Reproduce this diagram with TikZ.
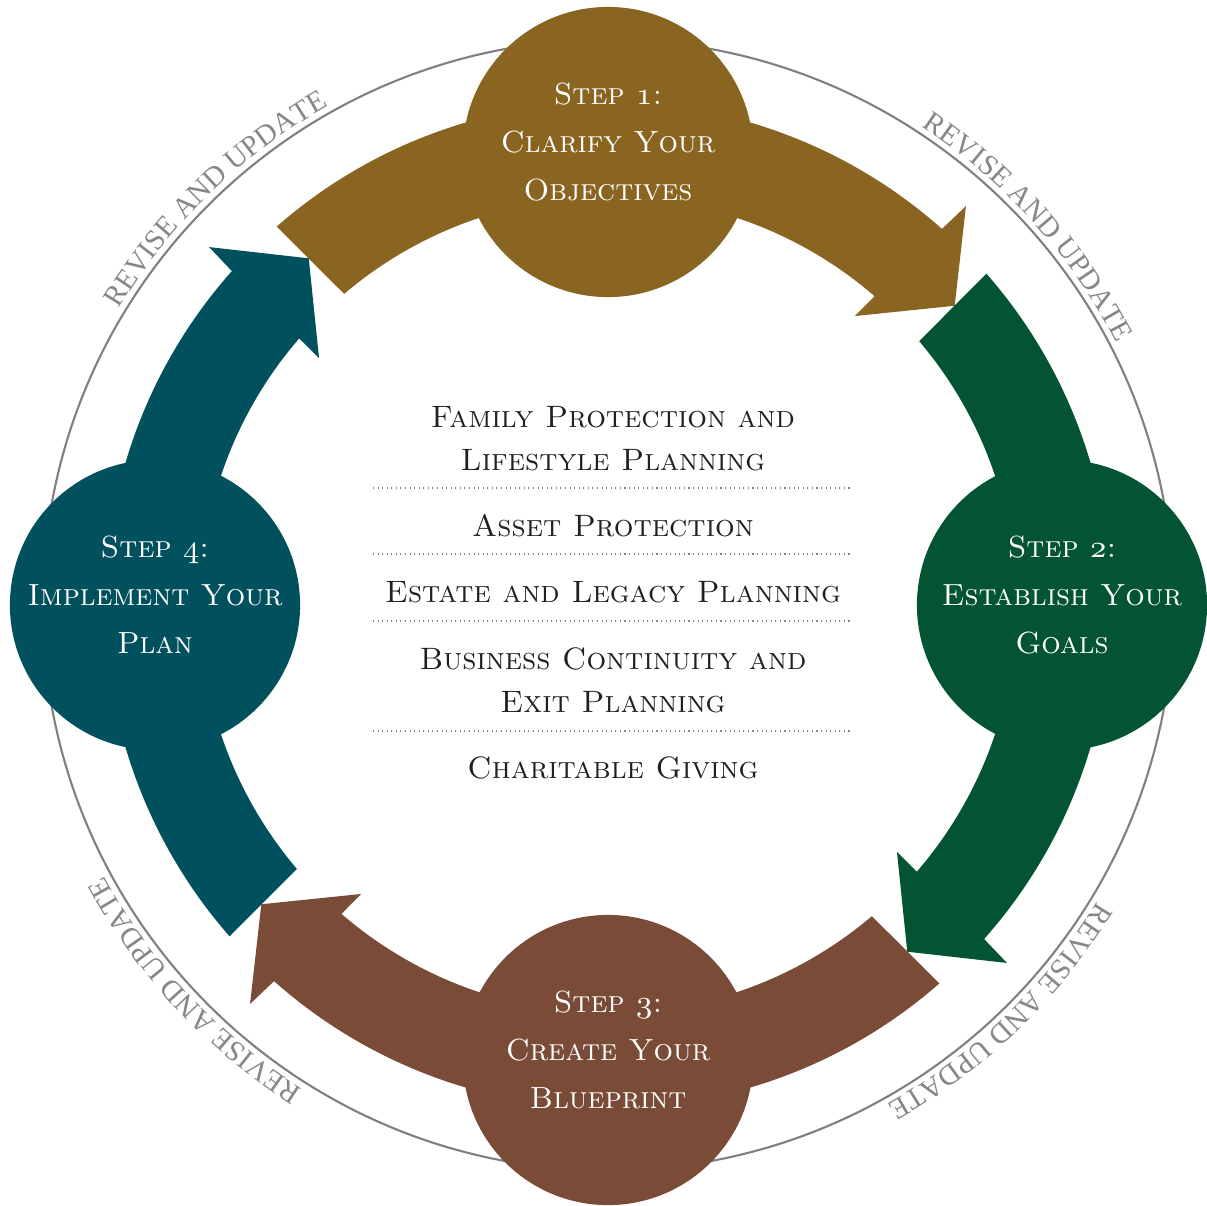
\documentclass[tikz,border=0pt]{standalone}
\usepackage{fontspec}
\newfontfamily\revfont{Liberation Serif}
\usetikzlibrary{decorations.text}

\definecolor{gold}{RGB}{137,101,33}
\definecolor{pine}{RGB}{2,84,50}
\definecolor{umber}{RGB}{122,75,54}
\definecolor{petrol}{RGB}{1,80,93}
\definecolor{ringgray}{RGB}{128,128,128}
\definecolor{revgray}{RGB}{135,135,138}
\definecolor{ink}{RGB}{35,31,32}

\newcommand\osnum[1]{{\fontencoding{OML}\fontfamily{cmm}\fontseries{m}\fontshape{it}\selectfont #1}}

\tikzset{
  stepdot/.style={circle,minimum size=2.9cm,inner sep=0pt},
  steptext/.style={align=center,text=white,font=\fontsize{8.7}{13.7}\selectfont\scshape},
  topic/.style={align=center,text=ink,anchor=base,font=\fontsize{8.8}{12.2}\selectfont\scshape},
  sepline/.style={densely dotted,line width=0.3pt,ringgray},
  revise/.style={decorate,decoration={text along path,text align=center,text color=revgray,
    text={|\revfont\fontsize{8.3}{9}\selectfont|REVISE AND UPDATE}}}
}

\begin{document}
\begin{tikzpicture}[x=0.01cm,y=0.01cm]
  \useasboundingbox (-608,-600) rectangle (599,605);
  \node[circle,draw=ringgray,line width=0.6pt,minimum size=11.3cm] (ring) at (0,0) {};

  \foreach \col/\rot in {gold/0,pine/-90,umber/-180,petrol/-270}
    \fill[\col,rotate=\rot] (131.2:503) arc[start angle=131.2,end angle=48.4,radius=503]
      -- (48.1:536) -- (40.8:458) -- (49.5:380) -- (49.2:408)
      arc[start angle=49.2,end angle=130.3,radius=408] -- cycle;

  \node[stepdot,fill=gold] (s1) at (90:453) {};
  \node[stepdot,fill=pine] (s2) at (0:454) {};
  \node[stepdot,fill=umber] (s3) at (-90:455) {};
  \node[stepdot,fill=petrol] (s4) at (180:453) {};

  \node[steptext] (t1) at ([yshift=1mm]s1.center) {Step \osnum{1}:\\Clarify Your\\Objectives};
  \node[steptext] (t2) at ([yshift=1mm]s2.center) {Step \osnum{2}:\\Establish Your\\Goals};
  \node[steptext] (t3) at ([yshift=1mm]s3.center) {Step \osnum{3}:\\Create Your\\Blueprint};
  \node[steptext] (t4) at ([yshift=1mm]s4.center) {Step \osnum{4}:\\Implement Your\\Plan};

  \node[topic] (c1) at (5,135) {Family Protection and\\Lifestyle Planning};
  \node[topic] (c2) at (5,69) {Asset Protection};
  \node[topic] (c3) at (5,3) {Estate and Legacy Planning};
  \node[topic] (c4) at (5,-107) {Business Continuity and\\Exit Planning};
  \node[topic] (c5) at (5,-173) {Charitable Giving};
  \foreach \y in {117,51,-16,-126}
    \draw[sepline] (-235,\y) -- (245,\y);

  \foreach \a [evaluate=\a as \s using \a+25,evaluate=\a as \e using \a-25] in {134,42,-46,-137}
    \path[revise] (\s:572) arc[start angle=\s,end angle=\e,radius=572];
\end{tikzpicture}
\end{document}
